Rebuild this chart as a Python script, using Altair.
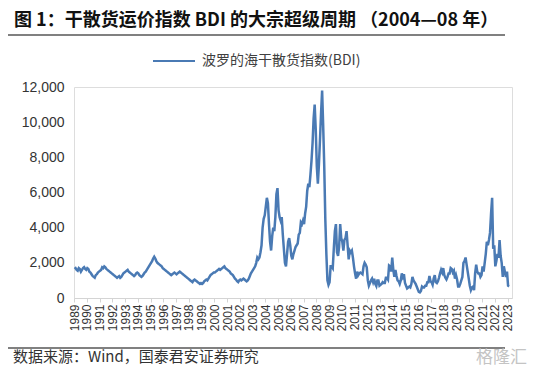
import altair as alt
import pandas as pd

# Monthly BDI readings (Jan..Dec)
bdi_1989_1993 = [
    1650, 1700, 1600, 1550, 1700, 1650, 1500, 1600, 1700, 1750, 1650, 1600,
    1700, 1650, 1500, 1450, 1350, 1250, 1200, 1150, 1300, 1350, 1450, 1500,
    1550, 1600, 1750, 1700, 1800, 1750, 1650, 1600, 1550, 1500, 1450, 1400,
    1350, 1300, 1250, 1200, 1150, 1200, 1250, 1150, 1200, 1300, 1400, 1450,
    1500, 1550, 1600, 1500, 1450, 1400, 1350, 1300, 1250, 1300, 1400, 1450,
]
bdi_1994_1998 = [
    1400, 1300, 1250, 1200, 1250, 1350, 1450, 1500, 1600, 1700, 1800, 1900,
    2000, 2100, 2250, 2350, 2250, 2100, 2000, 1950, 1900, 1850, 1800, 1700,
    1650, 1600, 1550, 1500, 1450, 1400, 1350, 1300, 1350, 1400, 1450, 1400,
    1350, 1400, 1450, 1500, 1450, 1400, 1350, 1300, 1250, 1200, 1150, 1100,
    1050, 1000, 950, 900, 1000, 1050, 1000, 950, 900, 850, 800, 850,
]
bdi_1999_2003 = [
    800, 850, 950, 1000, 1050, 1000, 1100, 1200, 1300, 1350, 1400, 1450,
    1450, 1500, 1550, 1600, 1650, 1600, 1650, 1700, 1750, 1800, 1700, 1650,
    1600, 1550, 1500, 1400, 1350, 1300, 1200, 1100, 1050, 950, 900, 1000,
    1050, 1000, 1050, 1100, 1050, 1000, 950, 1000, 1100, 1250, 1400, 1500,
    1600, 1700, 1800, 2000, 2300, 2200, 2300, 2600, 3000, 4000, 4500, 4700,
]
bdi_2004_2008 = [
    5200, 5700, 5400, 4200, 3200, 2700, 3500, 4000, 3800, 4600, 5900, 6250,
    5000, 4600, 4400, 4600, 3600, 2800, 2000, 1800, 2500, 3200, 3400, 3000,
    2400, 2200, 2500, 2700, 2900, 3000, 3100, 3600, 3700, 4300, 4200, 4400,
    4200, 4800, 5200, 6100, 6500, 6300, 7000, 7800, 8800, 10200, 11000, 9600,
    7500, 6500, 7600, 9000, 10500, 11800, 9800, 7500, 4500, 2500, 1000, 750,
]
bdi_2009_2013 = [
    900, 1800, 1800, 1700, 2800, 3800, 4200, 2600, 2400, 2900, 4200, 3400,
    3200, 2700, 3300, 3400, 3800, 3000, 2200, 2700, 2600, 2700, 2300, 1800,
    1400, 1100, 1500, 1300, 1400, 1450, 1400, 1350, 1800, 2000, 1900, 1750,
    1000, 700, 850, 1000, 1100, 900, 1100, 800, 680, 1000, 1000, 700,
    750, 800, 900, 850, 850, 1150, 1150, 1050, 1850, 1800, 1500, 2300,
]
bdi_2014_2018 = [
    1600, 1200, 1600, 1250, 1000, 950, 800, 1000, 1400, 1200, 1350, 850,
    700, 550, 600, 650, 600, 800, 1200, 1000, 900, 800, 650, 500,
    350, 320, 400, 650, 600, 600, 700, 700, 900, 900, 1250, 950,
    900, 750, 1100, 1300, 900, 850, 950, 1150, 1400, 1600, 1450, 1700,
    1300, 1150, 1050, 1200, 1400, 1400, 1700, 1650, 1450, 1550, 1100, 1300,
]
bdi_2019_2023 = [
    1050, 650, 650, 800, 1000, 1200, 2000, 2100, 2300, 1900, 1500, 1100,
    700, 450, 600, 650, 450, 1400, 1900, 1500, 1400, 1400, 1200, 1300,
    1800, 1500, 2000, 2500, 3200, 3000, 3300, 3700, 4800, 5700, 2800, 3000,
    1800, 2100, 2500, 2300, 3300, 2400, 2000, 1200, 1800, 1500, 1200, 1500,
    700, 650,
]

start_year = 1989
year_ticks = list(range(1989, 2024))
y_ticks = [0, 2000, 4000, 6000, 8000, 10000, 12000]
series_name = "波罗的海干散货指数(BDI)"
title_text = "图 1：干散货运价指数 BDI 的大宗超级周期 （2004—08 年）"
source_text = "数据来源：Wind，国泰君安证券研究"
watermark_text = "格隆汇"

values = (bdi_1989_1993 + bdi_1994_1998 + bdi_1999_2003 + bdi_2004_2008
          + bdi_2009_2013 + bdi_2014_2018 + bdi_2019_2023)
df = pd.DataFrame({
    "t": [start_year + (i + 0.5) / 12 for i in range(len(values))],
    "bdi": values,
    "series": series_name,
})

line = alt.Chart(df).mark_line(strokeWidth=2.5, clip=False).encode(
    x=alt.X("t:Q", scale=alt.Scale(domain=[1989, 2023.35], nice=False, zero=False),
            axis=alt.Axis(values=year_ticks, format="d", labelAngle=-90, title=None,
                          grid=False, domainColor="#d4d4d4", tickColor="#d4d4d4",
                          tickSize=4, labelFontSize=12, labelPadding=2,
                          labelFont="Liberation Sans", labelColor="#333333",
                          labelFlush=False, labelOverlap=False)),
    y=alt.Y("bdi:Q", scale=alt.Scale(domain=[0, 12000], nice=False),
            axis=alt.Axis(values=y_ticks, format=",d", title=None, grid=False,
                          domain=False, ticks=False, labelPadding=10,
                          labelFontSize=14, labelFont="Liberation Sans",
                          labelColor="#333333")),
    color=alt.Color("series:N", scale=alt.Scale(range=["#4a7ab4"]),
                    legend=alt.Legend(orient="none", legendX=78, legendY=-48,
                                      title=None, symbolType="stroke",
                                      symbolSize=1764, symbolStrokeWidth=2,
                                      labelFontSize=14, labelFont="Noto Sans CJK SC",
                                      labelColor="#404040", labelOffset=6)),
)

one = pd.DataFrame({"k": [0]})

title = alt.Chart(one).mark_text(
    text=title_text, align="left", baseline="middle", fontSize=18,
    font="Noto Sans CJK SC", fontWeight="bold", color="#111111",
).encode(x=alt.value(-60), y=alt.value(-66))

top_rule = alt.Chart(one).mark_rule(color="#808080", strokeWidth=2).encode(
    x=alt.value(-74), x2=alt.value(431), y=alt.value(-52))

bottom_rule = alt.Chart(one).mark_rule(color="#808080", strokeWidth=2).encode(
    x=alt.value(-74), x2=alt.value(431), y=alt.value(261))

source = alt.Chart(one).mark_text(
    text=source_text, align="left", baseline="middle", fontSize=15,
    font="Noto Sans CJK SC", color="#333333",
).encode(x=alt.value(-61), y=alt.value(270))

watermark = alt.Chart(one).mark_text(
    text=watermark_text, align="right", baseline="middle", fontSize=17,
    font="Noto Sans CJK SC", color="#c4c4c4",
).encode(x=alt.value(453), y=alt.value(271))

chart = alt.layer(line, title, top_rule, bottom_rule, source, watermark).properties(
    width=438, height=211,
    autosize=alt.AutoSizeParams(type="none"),
    padding={"left": 66, "top": 79, "right": 16, "bottom": 73},
).configure_view(strokeWidth=0).configure(background="white")

chart.save("out.html", embed_options={"renderer": "svg", "actions": False})
